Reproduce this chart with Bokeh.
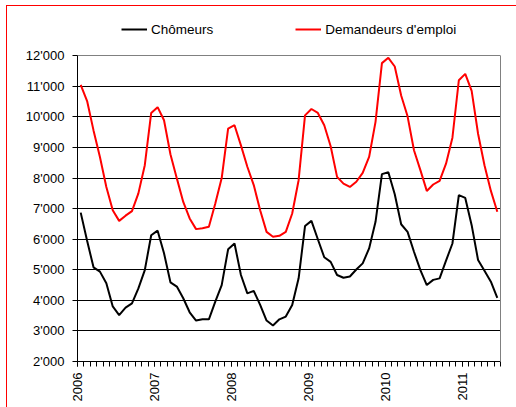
import math
import numpy as np
from bokeh.plotting import figure
from bokeh.layouts import column
from bokeh.models import FixedTicker, Legend, LegendItem, Range1d, LinearAxis, Grid
from bokeh.embed import file_html
from bokeh.resources import INLINE

# Monthly values, Jan 2006 - Jun 2011
chomeurs = [6870, 5950, 5080, 4940, 4560, 3800, 3520, 3760, 3900, 4390, 4990, 6130,
            6280, 5540, 4590, 4450, 4070, 3610, 3340, 3380, 3380, 3960, 4500, 5670,
            5860, 4830, 4230, 4310, 3850, 3340, 3180, 3380, 3470, 3850, 4720, 6430,
            6600, 6000, 5410, 5260, 4830, 4740, 4780, 5010, 5210, 5700, 6570, 8130,
            8190, 7470, 6490, 6240, 5590, 4990, 4500, 4670, 4720, 5300, 5860, 7440,
            7350, 6460, 5320, 4970, 4610, 4080]
demandeurs = [11050, 10520, 9560, 8690, 7710, 6950, 6600, 6770, 6920, 7500, 8420, 10130,
              10320, 9890, 8780, 7990, 7220, 6680, 6330, 6360, 6410, 7170, 8000, 9620,
              9730, 9070, 8370, 7770, 6950, 6240, 6080, 6110, 6240, 6840, 7930, 10050,
              10260, 10130, 9730, 9040, 8040, 7820, 7710, 7880, 8170, 8690, 9840, 11760,
              11935, 11650, 10700, 10020, 8910, 8260, 7580, 7790, 7910, 8470, 9320, 11200,
              11410, 10850, 9450, 8420, 7580, 6900]
years = ["2006", "2007", "2008", "2009", "2010", "2011"]
y_ticks = [2000, 3000, 4000, 5000, 6000, 7000, 8000, 9000, 10000, 11000, 12000]
y_labels = ["2'000", "3'000", "4'000", "5'000", "6'000", "7'000", "8'000", "9'000",
            "10'000", "11'000", "12'000"]

n = len(chomeurs)
x = np.arange(n) + 0.5          # points centred in their month slot
year_ticks = [12 * i for i in range(len(years))]
month_ticks = list(range(n + 1))
y_lo, y_hi = y_ticks[0], y_ticks[-1]

# layout geometry (pixels)
W, H = 516, 407
TOP, BOTTOM, LEFT, RIGHT = 10, 46, 77, 16
PLOT_TOP_Y = 55.3                      # where the top value sits
frame_h = H - TOP - BOTTOM
y_end = y_lo + (y_hi - y_lo) * frame_h / (H - BOTTOM - PLOT_TOP_Y)   # room above for the legend

FONT = "Liberation Sans"

p = figure(width=W, height=H, output_backend="svg", toolbar_location=None,
           x_range=Range1d(0, n), y_range=Range1d(y_lo, y_end),
           min_border_left=LEFT, min_border_right=RIGHT, min_border_top=TOP,
           min_border_bottom=BOTTOM)
p.background_fill_color = "white"
p.border_fill_alpha = 0
p.outline_line_color = None

r1 = p.line(x, chomeurs, line_color="black", line_width=2)
r2 = p.line(x, demandeurs, line_color="#ff0000", line_width=2)

p.xgrid.visible = False
p.ygrid.ticker = FixedTicker(ticks=y_ticks[:-1])
p.ygrid.grid_line_color = "black"
p.ygrid.grid_line_width = 1
p.add_layout(Grid(dimension=1, ticker=FixedTicker(ticks=[y_hi]),
                  grid_line_color="#808080", grid_line_width=1))

xa = p.xaxis[0]
xa.ticker = FixedTicker(ticks=year_ticks, minor_ticks=month_ticks)
xa.major_label_overrides = {t: lab for t, lab in zip(year_ticks, years)}
xa.major_label_orientation = math.pi / 2
xa.major_tick_in = 0
xa.major_tick_out = 5
xa.minor_tick_in = 0
xa.minor_tick_out = 5
xa.major_label_standoff = 6
xa.axis_line_color = "black"
xa.major_tick_line_color = "black"
xa.minor_tick_line_color = "black"
xa.major_label_text_font = FONT
xa.major_label_text_font_size = "13px"
xa.major_label_text_color = "black"

ya = p.yaxis[0]
ya.bounds = (y_lo, y_hi)
ya.ticker = FixedTicker(ticks=y_ticks, minor_ticks=[])
ya.major_label_overrides = {t: lab for t, lab in zip(y_ticks, y_labels)}
ya.major_tick_in = 0
ya.major_tick_out = 5
ya.minor_tick_out = 0
ya.major_label_standoff = 8
ya.axis_line_color = "black"
ya.major_tick_line_color = "black"
ya.major_label_text_font = FONT
ya.major_label_text_font_size = "13px"
ya.major_label_text_color = "black"

# grey right edge of the plot area
ra = LinearAxis(bounds=(y_lo, y_hi), ticker=FixedTicker(ticks=[], minor_ticks=[]),
                axis_line_color="#808080", major_tick_line_color=None,
                minor_tick_line_color=None, major_label_text_alpha=0)
p.add_layout(ra, "right")

legend = Legend(items=[LegendItem(label="Chômeurs", renderers=[r1]),
                       LegendItem(label="Demandeurs d'emploi", renderers=[r2])],
                location=(44, 322), orientation="horizontal")
legend.border_line_color = None
legend.background_fill_alpha = 0
legend.padding = 0
legend.margin = 0
legend.glyph_width = 26
legend.glyph_height = 20
legend.label_height = 20
legend.label_standoff = 4
legend.spacing = 82
legend.label_text_font = FONT
legend.label_text_font_size = "13.5px"
legend.label_text_color = "black"
p.add_layout(legend)

# red chart-area frame (top and left edges visible, the rest runs off the picture)
layout = column(p, styles={
    "background-color": "white",
    "background-image": "linear-gradient(#ff0000, #ff0000), linear-gradient(#ff0000, #ff0000)",
    "background-size": "1px 402px, 510px 1px",
    "background-position": "6px 5px, 6px 5px",
    "background-repeat": "no-repeat",
})

open("out.html", "w").write(file_html(layout, INLINE))
